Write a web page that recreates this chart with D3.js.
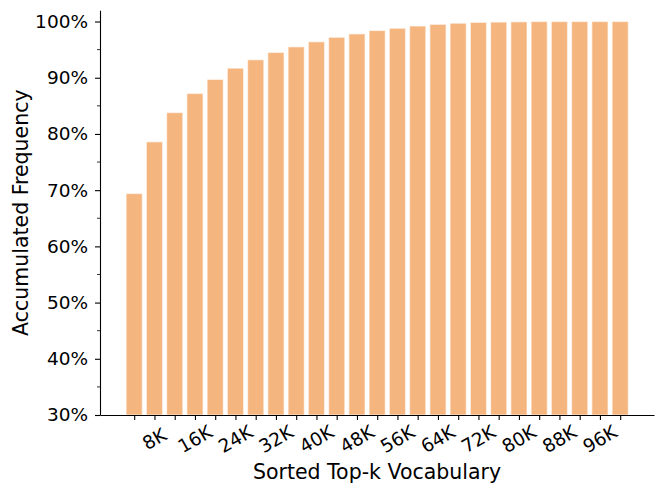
<!DOCTYPE html>
<html>
<head>
<meta charset="utf-8">
<script src="https://cdn.jsdelivr.net/npm/d3@7"></script>
<style>
  html, body { margin: 0; padding: 0; background: #fff; }
  svg { display: block; font-family: "DejaVu Sans", sans-serif; }
</style>
</head>
<body>
<svg id="chart" width="664" height="493"></svg>
<script>
// Categories (top-k vocabulary size, in thousands)
const categories = ["4K","8K","12K","16K","20K","24K","28K","32K","36K","40K","44K","48K","52K","56K","60K","64K","68K","72K","76K","80K","84K","88K","92K","96K","100K"];
// Accumulated frequency (%)
const values = [69.4, 78.6, 83.8, 87.2, 89.7, 91.7, 93.2, 94.5, 95.5, 96.4, 97.2, 97.8, 98.4, 98.8, 99.2, 99.5, 99.7, 99.85, 99.9, 99.95, 100, 100, 100, 100, 100];
// Tick labels shown on x-axis
const xTickLabels = ["8K","16K","24K","32K","40K","48K","56K","64K","72K","80K","88K","96K"];
const yTicks = [30, 40, 50, 60, 70, 80, 90, 100];
const yMinorTicks = [35, 45, 55, 65, 75, 85, 95];

const svg = d3.select("#chart");
const left = 100, right = 654, bottom = 415;

const x = d3.scaleLinear().domain([-0.689, 26.67]).range([left, right]);
const y = d3.scaleLinear().domain([30, 102]).range([bottom, bottom - 72 * 5.621]);
const barW = x(0.8) - x(0);

// Bars
svg.append("g").selectAll("rect").data(values).join("rect")
  .attr("x", (d, i) => x(i + 1) - barW / 2)
  .attr("y", d => y(d))
  .attr("width", barW)
  .attr("height", d => y(30) - y(d))
  .attr("fill", "#f5b57f")
  .attr("stroke", "rgba(255,255,255,0.55)")
  .attr("stroke-width", 1.2);

// X axis: ticks at every bar, labels on every second
const xAxis = d3.axisBottom(x)
  .tickValues(categories.map((c, i) => i + 1))
  .tickSize(5)
  .tickSizeOuter(0)
  .tickFormat(() => "");
const gx = svg.append("g").attr("transform", `translate(0,${bottom})`).call(xAxis);
gx.select(".domain").attr("stroke", "#000").attr("stroke-width", 1.1);
gx.selectAll(".tick line").attr("stroke", "#000").attr("stroke-width", 1.1);

const labelData = xTickLabels.map(l => ({ label: l, idx: categories.indexOf(l) + 1 }));
svg.append("g").selectAll("text").data(labelData).join("text")
  .attr("transform", d => `translate(${x(d.idx)},${bottom + 24}) rotate(-30)`)
  .attr("text-anchor", "middle")
  .attr("dominant-baseline", "central")
  .attr("font-size", 18.5)
  .attr("fill", "#000")
  .text(d => d.label);

// Y axis
const yAxis = d3.axisLeft(y)
  .tickValues(yTicks)
  .tickSize(5)
  .tickSizeOuter(0)
  .tickPadding(7)
  .tickFormat(d => d + "%");
const gy = svg.append("g").attr("transform", `translate(${left},0)`).call(yAxis);
gy.select(".domain").attr("stroke", "#000").attr("stroke-width", 1.1);
gy.selectAll(".tick line").attr("stroke", "#000").attr("stroke-width", 1.1);
gy.selectAll(".tick text").attr("font-size", 18.5).attr("fill", "#000")
  .attr("font-family", "DejaVu Sans, sans-serif");

// Y minor ticks
svg.append("g").selectAll("line").data(yMinorTicks).join("line")
  .attr("x1", left - 3).attr("x2", left)
  .attr("y1", d => y(d)).attr("y2", d => y(d))
  .attr("stroke", "#000").attr("stroke-width", 0.8);

// Axis labels
svg.append("text")
  .attr("x", (left + right) / 2).attr("y", 479)
  .attr("text-anchor", "middle")
  .attr("font-size", 20.5)
  .attr("fill", "#000")
  .text("Sorted Top-k Vocabulary");

svg.append("text")
  .attr("transform", `translate(28,${(y(102) + bottom) / 2}) rotate(-90)`)
  .attr("text-anchor", "middle")
  .attr("font-size", 20.5)
  .attr("fill", "#000")
  .text("Accumulated Frequency");
</script>
</body>
</html>
